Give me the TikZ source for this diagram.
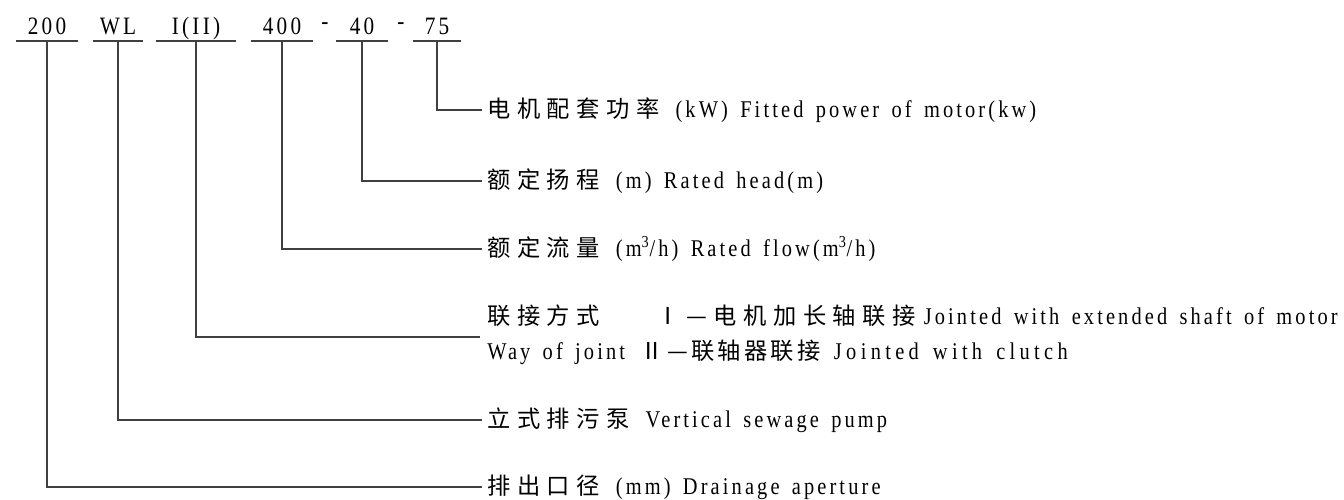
\documentclass[tikz,border=0pt]{standalone}
\usepackage{fontspec}
\setmainfont[FakeStretch=0.85,LetterSpace=13,WordSpace=1.5]{Liberation Serif}
\newfontfamily\enwide[FakeStretch=0.85,LetterSpace=18,WordSpace=1.5]{Liberation Serif}
\newfontfamily\zhfont[Scale=0.97,LetterSpace=28]{Noto Sans CJK SC}
\newfontfamily\zhtight[Scale=0.97,LetterSpace=14]{Noto Sans CJK SC}
\newcommand\zh[1]{{\zhfont #1}\hspace{12pt}}
\usetikzlibrary{positioning}

\begin{document}
\begin{tikzpicture}[
    x=0.75pt, y=-0.75pt,
    code/.style={
        anchor=south,
        inner xsep=0pt,
        inner ysep=4.5pt,
        text depth=0pt,
        font=\fontsize{18.75}{20}\selectfont
    },
    item/.style={
        anchor=west,
        inner xsep=3.75pt,
        inner ysep=0pt,
        font=\fontsize{18}{20}\selectfont
    },
    leader/.style={
        draw=black!75,
        line width=0.8pt
    }
]
\fill[white] (0,0) rectangle (1344,498);

\node (c200) [code, minimum width=46.5pt] at (47,41) {200};
\node (cwl) [code, minimum width=37.5pt] at (118,41) {WL};
\node (ctype) [code, minimum width=60pt] at (196,41) {I(II)};
\node (c400) [code, minimum width=46.5pt] at (282,41) {400};
\node (c40) [code, minimum width=38pt] at (362,41) {40};
\node (c75) [code, minimum width=36pt] at (437,41) {75};
\node (d1) [code] at (325,36) {-};
\node (d2) [code] at (401,36) {-};

\foreach \c in {c200,cwl,ctype,c400,c40,c75}
    \draw [leader] (\c.south west) -- (\c.south east);

\node (t75) [item] at (482,110) {\zh{电机配套功率}(kW) Fitted power of motor(kw)};
\node (t40) [item] at (482,181) {\zh{额定扬程}(m) Rated head(m)};
\node (t400) [item] at (482,249) {\zh{额定流量}(m\textsuperscript{3}/h) Rated flow(m\textsuperscript{3}/h)};
\node (tja) [item] at (482,316) {\makebox[127pt][l]{\zhfont 联接方式}{\zhfont Ⅰ—电机加长轴联接}\hspace{6pt}Jointed with extended shaft of motor};
\node (tjb) [item] at (482,352) {\makebox[115pt][l]{Way of joint}{\zhtight Ⅱ—联轴器联接}\hspace{10pt}{\enwide Jointed with clutch}};
\coordinate (tj) at (480,337);
\node (twl) [item] at (482,420) {\zh{立式排污泵}Vertical sewage pump};
\node (t200) [item] at (482,487) {\zh{排出口径}(mm) Drainage aperture};

\draw [leader] (c75.south) |- (t75.west);
\draw [leader] (c40.south) |- (t40.west);
\draw [leader] (c400.south) |- (t400.west);
\draw [leader] (ctype.south) |- (tj);
\draw [leader] (cwl.south) |- (twl.west);
\draw [leader] (c200.south) |- (t200.west);
\end{tikzpicture}
\end{document}
